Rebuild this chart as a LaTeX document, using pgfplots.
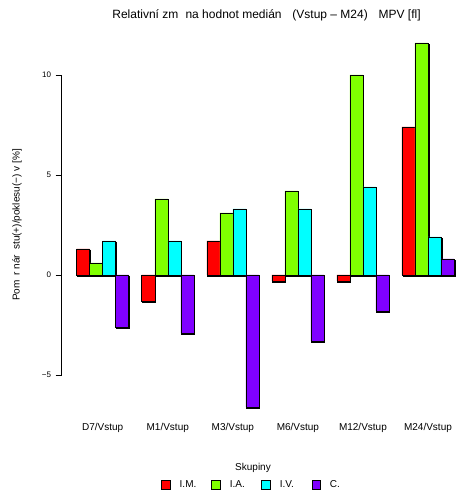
\documentclass[border=0pt]{standalone}
\usepackage{fontspec}
\setmainfont{Liberation Sans}
\usepackage{pgfplots}
\pgfplotsset{compat=1.18}
\usetikzlibrary{shadows}
\definecolor{cIM}{HTML}{FF0000}
\definecolor{cIA}{HTML}{80FF00}
\definecolor{cIV}{HTML}{00FFFF}
\definecolor{cC}{HTML}{8000FF}
\tikzset{barshadow/.style={drop shadow={shadow xshift=0.8pt,shadow yshift=-0.8pt,fill=black!50,opacity=1}}}
\begin{document}
\begin{tikzpicture}[x=1pt,y=1pt]
\path[use as bounding box] (0,0) rectangle (459,491);
\begin{axis}[
  at={(61.6pt,69.4pt)}, anchor=south west,
  scale only axis, width=396.3pt, height=393.2pt,
  xmin=-0.16, xmax=30.3, ymin=-7.33, ymax=12.33,
  clip=false,
  axis y line*=left, axis x line*=bottom,
  y axis line style={draw=none}, x axis line style={draw=none},
  ytick={-5,0,5,10}, yticklabels={−5,0,5,10},
  tick align=outside, major tick length=6pt,
  ytick style={black, line width=0.5pt},
  yticklabel style={font=\fontsize{8}{9}\selectfont, xshift=-1pt},
  xtick={3,8,13,18,23,28},
  xticklabels={D7/Vstup,M1/Vstup,M3/Vstup,M6/Vstup,M12/Vstup,M24/Vstup},
  xtick style={draw=none},
  xticklabel style={font=\fontsize{10}{12}\selectfont, yshift=7.5pt},
  ylabel={Pom\hspace{0.5em}r nár\hspace{0.5em}stu(+)/poklesu(−) v [\%]},
  every axis y label/.style={at={(axis description cs:-0.1125,0.5)},rotate=90,anchor=center,font=\fontsize{10}{12}\selectfont},
  legend image code/.code={\draw[#1] (0pt,-4pt) rectangle (8.3pt,4.3pt);},
  legend columns=4,
  legend style={draw=none, fill=none, at={(0.5044,-0.161)}, anchor=center,
    font=\fontsize{10}{12}\selectfont,
    nodes={inner xsep=0pt, text width=31.7pt, align=left},
    /tikz/every odd column/.append style={column sep=9.7pt},
    /tikz/every even column/.append style={column sep=0pt}},
]
\addplot[ybar, bar width=1, bar shift=0pt, fill=cIM, draw=black, line width=0.5pt, barshadow, forget plot] coordinates {(1.5,1.3) (6.5,-1.3) (11.5,1.7) (16.5,-0.3) (21.5,-0.3) (26.5,7.4)};
\addplot[ybar, bar width=1, bar shift=0pt, fill=cIA, draw=black, line width=0.5pt, barshadow, forget plot] coordinates {(2.5,0.6) (7.5,3.8) (12.5,3.1) (17.5,4.2) (22.5,10.0) (27.5,11.6)};
\addplot[ybar, bar width=1, bar shift=0pt, fill=cIV, draw=black, line width=0.5pt, barshadow, forget plot] coordinates {(3.5,1.7) (8.5,1.7) (13.5,3.3) (18.5,3.3) (23.5,4.4) (28.5,1.9)};
\addplot[ybar, bar width=1, bar shift=0pt, fill=cC, draw=black, line width=0.5pt, barshadow, forget plot] coordinates {(4.5,-2.6) (9.5,-2.9) (14.5,-6.6) (19.5,-3.3) (24.5,-1.8) (29.5,0.8)};
\draw[black, line width=0.5pt] (axis cs:-0.16,-5) -- (axis cs:-0.16,10);
\addlegendimage{fill=cIM, draw=black}\addlegendentry{I.M.}
\addlegendimage{fill=cIA, draw=black}\addlegendentry{I.A.}
\addlegendimage{fill=cIV, draw=black}\addlegendentry{I.V.}
\addlegendimage{fill=cC, draw=black}\addlegendentry{C.}
\end{axis}
\node[font=\fontsize{12}{14}\selectfont] at (266.5,475.5) {Relativní zm\hspace{0.6em}na hodnot medián\hspace{0.9em}(Vstup – M24)\hspace{0.9em}MPV [fl]};
\node[font=\fontsize{10}{12}\selectfont] at (253,23.5) {Skupiny};
\end{tikzpicture}
\end{document}
